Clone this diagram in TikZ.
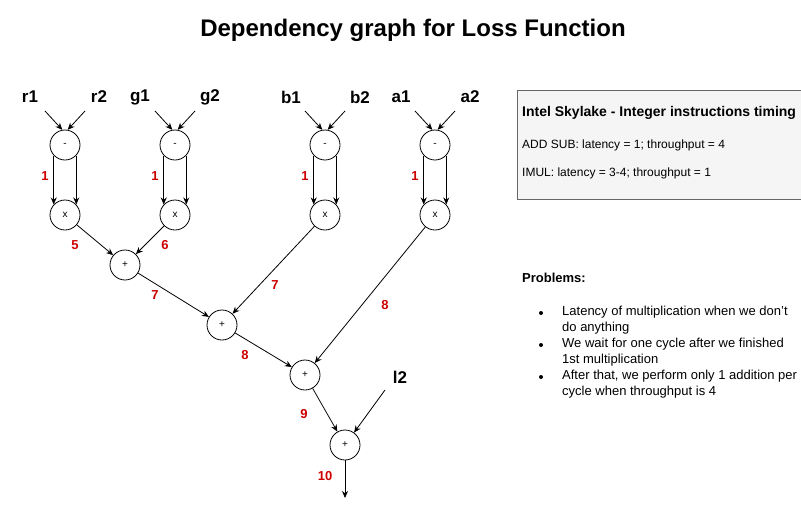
\documentclass[tikz,border=0pt]{standalone}
\usepackage{fontspec}
\setmainfont{Liberation Sans}
\usetikzlibrary{arrows.meta}
\definecolor{lblred}{HTML}{CC0000}
\definecolor{boxfill}{HTML}{F5F5F5}
\definecolor{boxline}{HTML}{666666}
\tikzset{
  op/.style={circle,draw,line width=0.8pt,minimum size=30pt,inner sep=0pt,font=\fontsize{10}{12}\selectfont},
  inp/.style={font=\fontsize{17}{20}\selectfont\bfseries,inner sep=0pt},
  cyc/.style={font=\fontsize{13}{15}\selectfont\bfseries,text=lblred,inner sep=0pt},
  edge/.style={line width=0.8pt,-{Stealth[length=7pt,width=6pt]}},
}
\begin{document}
\begin{tikzpicture}[x=1pt,y=-1pt]
\useasboundingbox (0,0) rectangle (801,509);
\node[font=\fontsize{24}{28}\selectfont\bfseries] (title) at (413,30) {Dependency graph for Loss Function};

% inputs
\node[inp] (r1) at (30,97) {r1};
\node[inp] (r2) at (99,97) {r2};
\node[inp] (g1) at (140,97) {g1};
\node[inp] (g2) at (210,97) {g2};
\node[inp] (b1) at (291,97) {b1};
\node[inp] (b2) at (360,97) {b2};
\node[inp] (a1) at (401,97) {a1};
\node[inp] (a2) at (470,97) {a2};
\node[inp] (l2) at (400,377) {l2};

% operations
\foreach \n/\x in {r/65,g/175,b/325,a/435}{
  \node[op] (m\n) at (\x,145) {-};
  \node[op] (x\n) at (\x,215) {x};
  \coordinate (\n s1) at (\x-20,111);
  \coordinate (\n s2) at (\x+20,111);
  \draw[edge] (\n s1) -- (m\n.100);
  \draw[edge] (\n s2) -- (m\n.80);
  \draw[edge] (m\n.223) -- (x\n.137);
  \draw[edge] (m\n.-43) -- (x\n.43);
  \node[cyc] (c\n) at (\x-20,176) {1};
}
\node[op] (p1) at (125,265) {+};
\node[op] (p2) at (222,325) {+};
\node[op] (p3) at (305,375) {+};
\node[op] (p4) at (345,445) {+};
\coordinate (l2s) at (385,390);
\coordinate (out) at (345,498);

\draw[edge] (xr) -- (p1);
\draw[edge] (xg) -- (p1);
\draw[edge] (p1) -- (p2);
\draw[edge] (xb) -- (p2);
\draw[edge] (p2) -- (p3);
\draw[edge] (xa) -- (p3);
\draw[edge] (p3) -- (p4);
\draw[edge] (l2s) -- (p4);
\draw[edge] (p4) -- (out);

\node[cyc] (c5) at (75,245) {5};
\node[cyc] (c6) at (165,245) {6};
\node[cyc] (c7a) at (155,295) {7};
\node[cyc] (c7b) at (275,285) {7};
\node[cyc] (c8a) at (385,305) {8};
\node[cyc] (c8b) at (245,355) {8};
\node[cyc] (c9) at (304,414) {9};
\node[cyc] (c10) at (325,476) {10};

% info box
\draw[boxline,fill=boxfill,line width=0.8pt] (517,90) rectangle (806,199);
\node[anchor=west,inner sep=0pt,font=\fontsize{14}{16}\selectfont\bfseries] (bt) at (522,113) {Intel Skylake - Integer instructions timing};
\node[anchor=west,inner sep=0pt,font=\fontsize{12}{14}\selectfont] (b1t) at (522,145) {ADD SUB: latency = 1; throughput = 4};
\node[anchor=west,inner sep=0pt,font=\fontsize{12}{14}\selectfont] (b2t) at (522,173) {IMUL: latency = 3-4; throughput = 1};

% problems
\node[anchor=west,inner sep=0pt,font=\fontsize{13}{15}\selectfont\bfseries] (pt) at (522,278) {Problems:};
\foreach \y in {313,345,377}{
  \fill (541,\y) circle (2);
}
\node[anchor=north west,inner sep=0pt,align=left,font=\fontsize{13}{16}\selectfont] (pl) at (562,306)
  {Latency of multiplication when we don't\\do anything\\We wait for one cycle after we finished\\1st multiplication\\After that, we perform only 1 addition per\\cycle when throughput is 4};
\end{tikzpicture}
\end{document}
